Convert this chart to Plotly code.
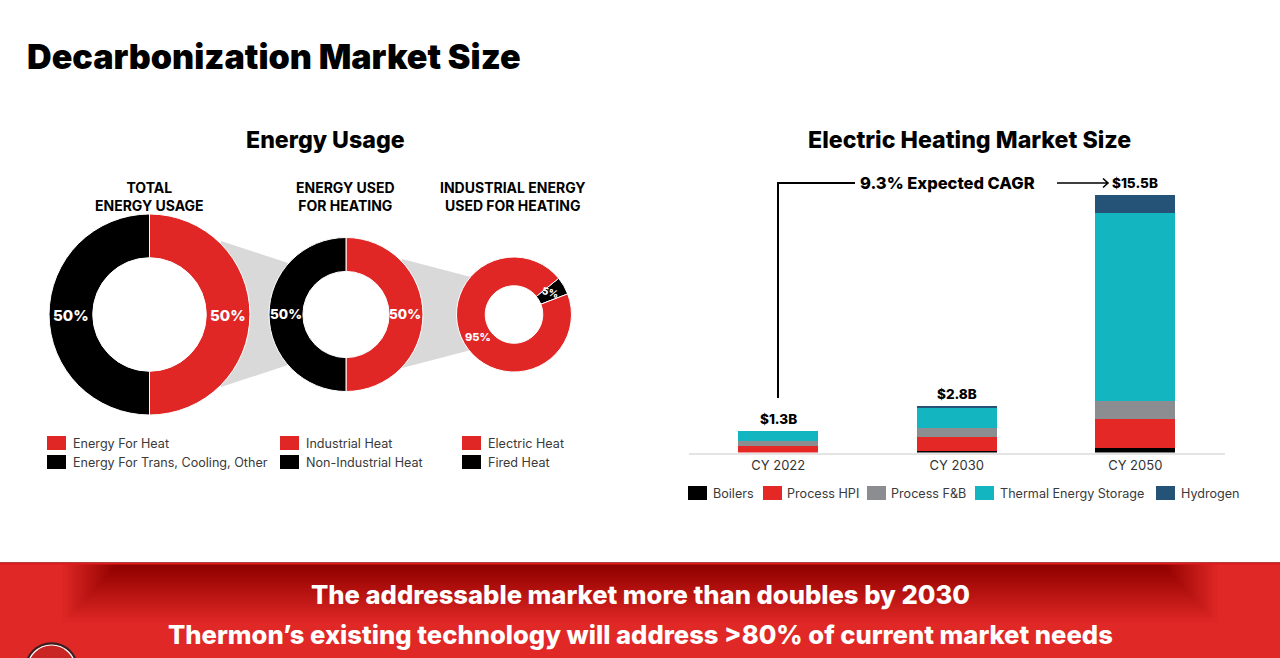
import plotly.graph_objects as go

W, H = 1280, 658
RED, BLACK = "#e12726", "#000000"

# Bar data
years = ["CY 2022", "CY 2030", "CY 2050"]
boilers = [0.0, 0.10, 0.26]
process_hpi = [0.42, 0.84, 1.73]
process_fb = [0.28, 0.56, 1.12]
thermal = [0.60, 1.18, 11.31]
hydrogen = [0.0, 0.12, 1.08]
totals = [1.3, 2.8, 15.5]
series_names = ["Boilers", "Process HPI", "Process F&B", "Thermal Energy Storage", "Hydrogen"]
series_colors = ["#000000", "#e32826", "#8c8d90", "#13b5c1", "#255378"]

# Donut data
donut_titles = ["TOTAL<br>ENERGY USAGE", "ENERGY USED<br>FOR HEATING", "INDUSTRIAL ENERGY<br>USED FOR HEATING"]
donut_values = [[50, 50], [50, 50], [5, 95]]
legend_red = ["Energy For Heat", "Industrial Heat", "Electric Heat"]
legend_black = ["Energy For Trans, Cooling, Other", "Non-Industrial Heat", "Fired Heat"]

FONT = "Inter"


def px(x):
    return x / W


def py(y):
    return 1 - y / H


fig = go.Figure()
shapes, ann = [], []


def text(x, y, s, size, color="#000000", weight=400, anchor="center", yanchor="middle", angle=0):
    ann.append(dict(x=px(x), y=py(y), xref="paper", yref="paper", text=s, showarrow=False,
                    xanchor=anchor, yanchor=yanchor, align="center", textangle=angle,
                    font=dict(family=FONT, size=size, color=color, weight=weight)))


def rect(x0, y0, x1, y1, color, opacity=1, layer="below"):
    shapes.append(dict(type="rect", xref="paper", yref="paper", x0=px(x0), x1=px(x1), y0=py(y0), y1=py(y1),
                       fillcolor=color, opacity=opacity, line=dict(width=0), layer=layer))


def poly(points, color):
    d = "M" + " L".join(f"{px(x):.5f},{py(y):.5f}" for x, y in points) + " Z"
    shapes.append(dict(type="path", xref="paper", yref="paper", path=d, fillcolor=color,
                       line=dict(width=0), layer="below"))


def stroke(segments, width, color="#000"):
    d = " ".join("M" + " L".join(f"{px(x):.5f},{py(y):.5f}" for x, y in seg) for seg in segments)
    shapes.append(dict(type="path", xref="paper", yref="paper", path=d,
                       line=dict(color=color, width=width), fillcolor="rgba(0,0,0,0)"))


# Funnels between donuts
poly([(221, 241), (288, 263), (288, 365), (221, 387)], "#d9d9d9")
poly([(402, 259), (471, 277), (471, 350), (402, 368)], "#d9d9d9")

# Donuts
geoms = [(149.5, 314.5, 100.5, 0.565), (346, 314.5, 77, 0.56), (514, 314.5, 57.5, 0.5)]
donut_colors = [[RED, BLACK], [RED, BLACK], [BLACK, RED]]
rotations = [0, 0, 51]
for (cx, cy, r, hole), vals, cols, rot in zip(geoms, donut_values, donut_colors, rotations):
    fig.add_trace(go.Pie(values=vals, sort=False, direction="clockwise", rotation=rot, hole=hole,
                         marker=dict(colors=cols, line=dict(color="#ffffff", width=1)),
                         textinfo="none", showlegend=False,
                         domain=dict(x=[px(cx - r), px(cx + r)], y=[py(cy + r), py(cy - r)])))

label_pos = [[(227.5, 315, 15, 0), (71, 315, 15, 0)],
             [(405, 314, 13.5, 0), (285.5, 314, 13.5, 0)],
             [(550, 292, 10, 15), (478, 337, 11, 0)]]
for vals, poss in zip(donut_values, label_pos):
    for v, (x, y, s, ang) in zip(vals, poss):
        text(x, y, f"{v}%", s, "#ffffff", 800, angle=ang)

# Headline texts
text(25, 56, "Decarbonization Market Size", 34.1, weight=900, anchor="left")
text(325, 140, "Energy Usage", 23.2, weight=800)
text(969, 140, "Electric Heating Market Size", 23.2, weight=800)
for x, t in zip([149.5, 345, 513], donut_titles):
    text(x, 196, t, 14, weight=700)

# Donut legends
for x, a, b in zip([47, 280, 462], legend_red, legend_black):
    rect(x, 436, x + 19, 450, RED)
    rect(x, 455, x + 19, 469, BLACK)
    text(x + 23.5, 443, a, 12.6, "#3a3a3a", anchor="left")
    text(x + 23.5, 462, b, 12.6, "#3a3a3a", anchor="left")

# Stacked bars
for name, vals, col in zip(series_names, [boilers, process_hpi, process_fb, thermal, hydrogen], series_colors):
    fig.add_trace(go.Bar(x=years, y=vals, name=name, marker=dict(color=col, line=dict(width=0)),
                         width=0.448, showlegend=False, xaxis="x", yaxis="y"))

# Totals above bars
for yr, t in zip(years, totals):
    ann.append(dict(x=yr, y=t, xref="x", yref="y", text=f"${t}B", showarrow=False, yanchor="bottom",
                    yshift=1.5, font=dict(family=FONT, size=13.5, color="#000", weight=800)))

# Bar legend
for x, tx, name, col in zip([688, 763, 867, 975, 1156], [711, 785, 889, 998, 1178.5], series_names, series_colors):
    rect(x, 486, x + 19, 500, col)
    text(tx, 493, name, 12.6, "#3a3a3a", anchor="left")

# CAGR connector
stroke([[(778, 398), (778, 183), (855, 183)]], 2)
text(947, 183, "9.3% Expected CAGR", 16.5, weight=800)
stroke([[(1057, 183), (1108, 183)], [(1103, 178.5), (1108, 183), (1103, 187.5)]], 1.6)

# Banner
rect(0, 563, W, H, "#e02826")
n = 40
for i in range(n):
    rect(62 + 1.4 * i, 563, W - 62 - 1.4 * i, 563 + 60 - 1.45 * i, "#000000", 0.0085)
rect(0, 562, W, 563, "#b04040")
rect(0, 563, W, 564.5, "#e01a1a")
shapes.append(dict(type="circle", xref="paper", yref="paper", x0=px(26), x1=px(77), y0=py(694), y1=py(643.5),
                   fillcolor="#c92524", line=dict(color="#3a2020", width=2.6), layer="below"))
shapes.append(dict(type="circle", xref="paper", yref="paper", x0=px(27.5), x1=px(75.5), y0=py(693), y1=py(645),
                   fillcolor="#c92524", line=dict(color="#ffffff", width=1.2), layer="below"))
text(640, 594, "The addressable market more than doubles by 2030", 25.6, "#ffffff", 800)
text(640, 634, "Thermon’s existing technology will address &gt;80% of current market needs", 25.6, "#ffffff", 800)

fig.update_layout(
    width=W, height=H, margin=dict(l=0, r=0, t=0, b=0), paper_bgcolor="#ffffff", plot_bgcolor="#ffffff",
    barmode="stack", bargap=0.552, shapes=shapes, annotations=ann,
    xaxis=dict(domain=[px(689), px(1224.5)], anchor="y", type="category", categoryorder="array", categoryarray=years,
               showgrid=False, zeroline=False, showline=True, linecolor="#e4e4e4", linewidth=2, ticks="",
               tickfont=dict(family=FONT, size=13, color="#333333"), ticklabelstandoff=0),
    yaxis=dict(domain=[py(452.5), py(195)], range=[0, 15.5], visible=False),
)
fig.write_html("out.html", config=dict(displayModeBar=False), post_script="document.body.style.margin='0';")
